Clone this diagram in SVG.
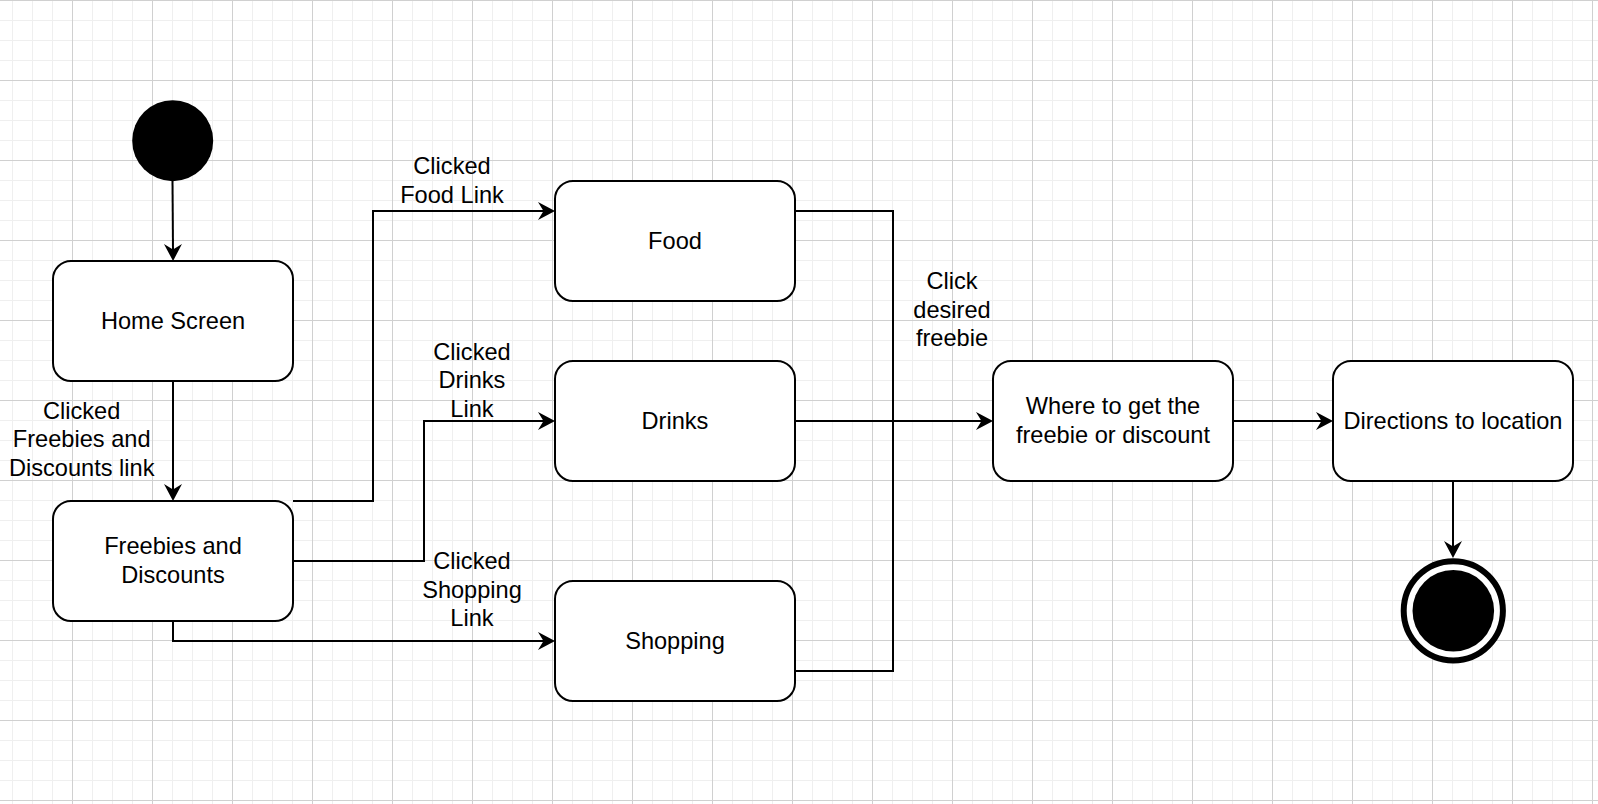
<svg xmlns="http://www.w3.org/2000/svg" width="1598" height="804" viewBox="0 0 1598 804">
<defs>
<pattern id="grid" patternUnits="userSpaceOnUse" x="72" y="0" width="80" height="80">
<path d="M20.5 0V80M40.5 0V80M60.5 0V80M0 20.5H80M0 40.5H80M0 60.5H80" stroke="#efefef" stroke-width="1" fill="none"/>
<path d="M0.5 0V80M0 0.5H80" stroke="#d0d0d0" stroke-width="1" fill="none"/>
</pattern>
<marker id="arr" markerUnits="userSpaceOnUse" markerWidth="18" markerHeight="18" viewBox="0 0 18 18" refX="7" refY="9" orient="auto" overflow="visible">
<path d="M0 0 L17 9 L0 18 L5.5 9 Z" fill="#000"/>
</marker>
</defs>
<style>
.box{fill:#fff;stroke:#000;stroke-width:2}
.t{font-family:"Liberation Sans",Arial,Helvetica,sans-serif;font-size:23.6px;fill:#000;text-anchor:middle}
.c{fill:none;stroke:#000;stroke-width:2}
.a{marker-end:url(#arr)}
</style>
<rect width="1598" height="804" fill="#fff"/>
<rect width="1598" height="804" fill="url(#grid)"/>

<g id="connectors">
<path class="c a" d="M172.5 181 L173 251"/>
<path class="c a" d="M173 381 V491"/>
<path class="c a" d="M293 501 H373 V211 H545"/>
<path class="c a" d="M293 561 H424 V421 H545"/>
<path class="c a" d="M173 621 V641 H545"/>
<path class="c" d="M795 211 H893 V671 H795"/>
<path class="c a" d="M795 421 H983"/>
<path class="c a" d="M1233 421 H1323"/>
<path class="c a" d="M1453 481 V548"/>
</g>

<g id="labels">
<text class="t"><tspan x="81.7" y="418.5">Clicked</tspan><tspan x="81.7" y="447">Freebies and</tspan><tspan x="81.7" y="475.5">Discounts link</tspan></text>
<text class="t"><tspan x="452" y="174">Clicked</tspan><tspan x="452" y="202.5">Food Link</tspan></text>
<text class="t"><tspan x="472" y="359.5">Clicked</tspan><tspan x="472" y="388">Drinks</tspan><tspan x="472" y="416.5">Link</tspan></text>
<text class="t"><tspan x="472" y="569">Clicked</tspan><tspan x="472" y="597.5">Shopping</tspan><tspan x="472" y="626">Link</tspan></text>
<text class="t"><tspan x="952" y="289">Click</tspan><tspan x="952" y="317.5">desired</tspan><tspan x="952" y="346">freebie</tspan></text>
</g>

<g id="start">
<circle cx="172.7" cy="140.7" r="40.5" fill="#000"/>
</g>
<g id="home">
<rect class="box" x="53" y="261" width="240" height="120" rx="18"/>
<text class="t" x="173" y="328.5">Home Screen</text>
</g>
<g id="freebies">
<rect class="box" x="53" y="501" width="240" height="120" rx="18"/>
<text class="t"><tspan x="173" y="554">Freebies and</tspan><tspan x="173" y="582.5">Discounts</tspan></text>
</g>
<g id="food">
<rect class="box" x="555" y="181" width="240" height="120" rx="18"/>
<text class="t" x="675" y="248.5">Food</text>
</g>
<g id="drinks">
<rect class="box" x="555" y="361" width="240" height="120" rx="18"/>
<text class="t" x="675" y="428.5">Drinks</text>
</g>
<g id="shopping">
<rect class="box" x="555" y="581" width="240" height="120" rx="18"/>
<text class="t" x="675" y="648.5">Shopping</text>
</g>
<g id="where">
<rect class="box" x="993" y="361" width="240" height="120" rx="18"/>
<text class="t"><tspan x="1113" y="414">Where to get the</tspan><tspan x="1113" y="442.5">freebie or discount</tspan></text>
</g>
<g id="directions">
<rect class="box" x="1333" y="361" width="240" height="120" rx="18"/>
<text class="t" x="1453" y="428.5">Directions to location</text>
</g>
<g id="end">
<circle cx="1453.3" cy="610.8" r="49.6" fill="#fff" stroke="#000" stroke-width="6"/>
<circle cx="1453.3" cy="610.8" r="40.8" fill="#000"/>
</g>
</svg>
